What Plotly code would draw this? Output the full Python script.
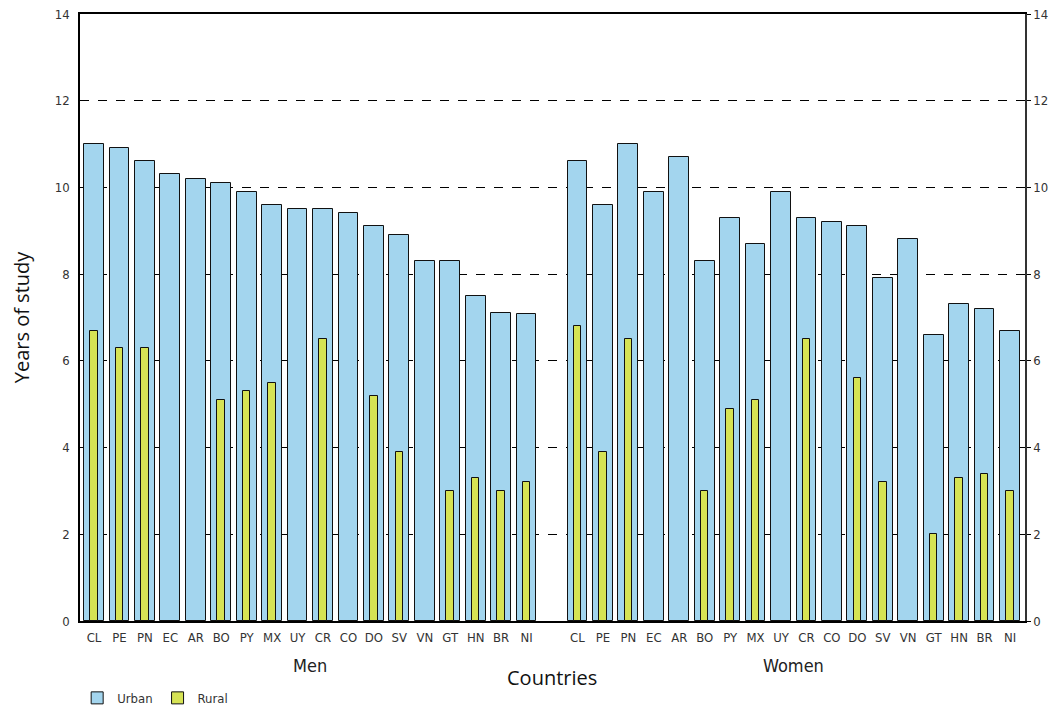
import plotly.graph_objects as go

countries = ["CL", "PE", "PN", "EC", "AR", "BO", "PY", "MX", "UY", "CR",
             "CO", "DO", "SV", "VN", "GT", "HN", "BR", "NI"]
groups = ["Men", "Women"]

men_urban = [11.0, 10.9, 10.6, 10.3, 10.2, 10.1, 9.9, 9.6, 9.5, 9.5,
             9.4, 9.1, 8.9, 8.3, 8.3, 7.5, 7.1, 7.08]
men_rural = [6.7, 6.3, 6.3, None, None, 5.1, 5.3, 5.5, None, 6.5,
             None, 5.2, 3.9, None, 3.0, 3.3, 3.0, 3.2]
women_urban = [10.6, 9.6, 11.0, 9.9, 10.7, 8.3, 9.3, 8.7, 9.9, 9.3,
               9.2, 9.1, 7.9, 8.8, 6.6, 7.3, 7.2, 6.7]
women_rural = [6.8, 3.9, 6.5, None, None, 3.0, 4.9, 5.1, None, 6.5,
               None, 5.6, 3.2, None, 2.0, 3.3, 3.4, 3.0]

y_ticks = [0, 2, 4, 6, 8, 10, 12, 14]

n = len(countries)
pos_men = list(range(n))
pos_women = [n + 1 + i for i in range(n)]
positions = pos_men + pos_women
urban = men_urban + women_urban
rural = men_rural + women_rural
labels = countries + countries

URBAN = "#a3d5ee"
RURAL = "#d6e354"
FAMILY = "Liberation Sans Narrow, DejaVu Sans Condensed, DejaVu Sans, sans-serif"
TICKFONT = dict(family=FAMILY, size=13, color="#333333")

fig = go.Figure()
fig.add_trace(go.Bar(x=positions, y=urban, width=0.78, name="Urban",
                     marker=dict(color=URBAN, line=dict(color="#111111", width=1))))
# the rural series sits on the mirrored right axis (same scale, matches="y")
fig.add_trace(go.Bar(x=positions, y=rural, width=0.30, name="Rural", yaxis="y2",
                     marker=dict(color=RURAL, line=dict(color="#111111", width=1))))

fig.update_layout(
    width=1042, height=700,
    margin=dict(l=72, r=25, t=6, b=87, autoexpand=False),
    paper_bgcolor="white", plot_bgcolor="white",
    barmode="overlay", bargap=0,
    showlegend=True,
    legend=dict(orientation="h", x=-0.003, xanchor="left", y=-0.102, yanchor="top",
                font=TICKFONT, itemwidth=30, tracegroupgap=0,
                bgcolor="rgba(0,0,0,0)"),
    xaxis=dict(range=[-0.55, 2 * n + 0.59],
               tickmode="array", tickvals=positions, ticktext=labels,
               tickfont=TICKFONT, ticks="outside", ticklen=4,
               tickcolor="rgba(0,0,0,0)",
               showline=True, linecolor="black", linewidth=1.5, mirror=True,
               showgrid=False, zeroline=False, fixedrange=True, automargin=False),
    yaxis=dict(range=[0, 14], tickmode="array", tickvals=y_ticks,
               tickfont=TICKFONT, ticks="outside", ticklen=6,
               tickcolor="rgba(0,0,0,0)", ticklabeloverflow="allow",
               showline=True, linecolor="black", linewidth=1.5,
               showgrid=True, gridcolor="black", gridwidth=1, griddash="dash",
               zeroline=False, automargin=False,
               title=dict(text="Years of study",
                          font=dict(family="Open Sans, sans-serif", size=20, color="#111111"),
                          standoff=20)),
    yaxis2=dict(range=[0, 14], tickmode="array", tickvals=y_ticks,
                overlaying="y", side="right", matches="y",
                tickfont=TICKFONT, ticks="outside", ticklen=4, tickcolor="black",
                ticklabeloverflow="allow",
                showline=True, linecolor="#333333", linewidth=1.5,
                showgrid=False, zeroline=False, automargin=False),
)

centers = [sum(pos_men) / n, sum(pos_women) / n]
for g, c in zip(groups, centers):
    fig.add_annotation(x=c, xref="x", y=-0.052, yref="paper", text=g,
                       showarrow=False, yanchor="top",
                       font=dict(family=FAMILY, size=18, color="#222222"))
fig.add_annotation(x=(positions[0] + positions[-1]) / 2, xref="x", y=-0.067, yref="paper",
                   text="Countries", showarrow=False, yanchor="top",
                   font=dict(family="Open Sans, sans-serif", size=20, color="#111111"))

fig.write_html("out.html")
